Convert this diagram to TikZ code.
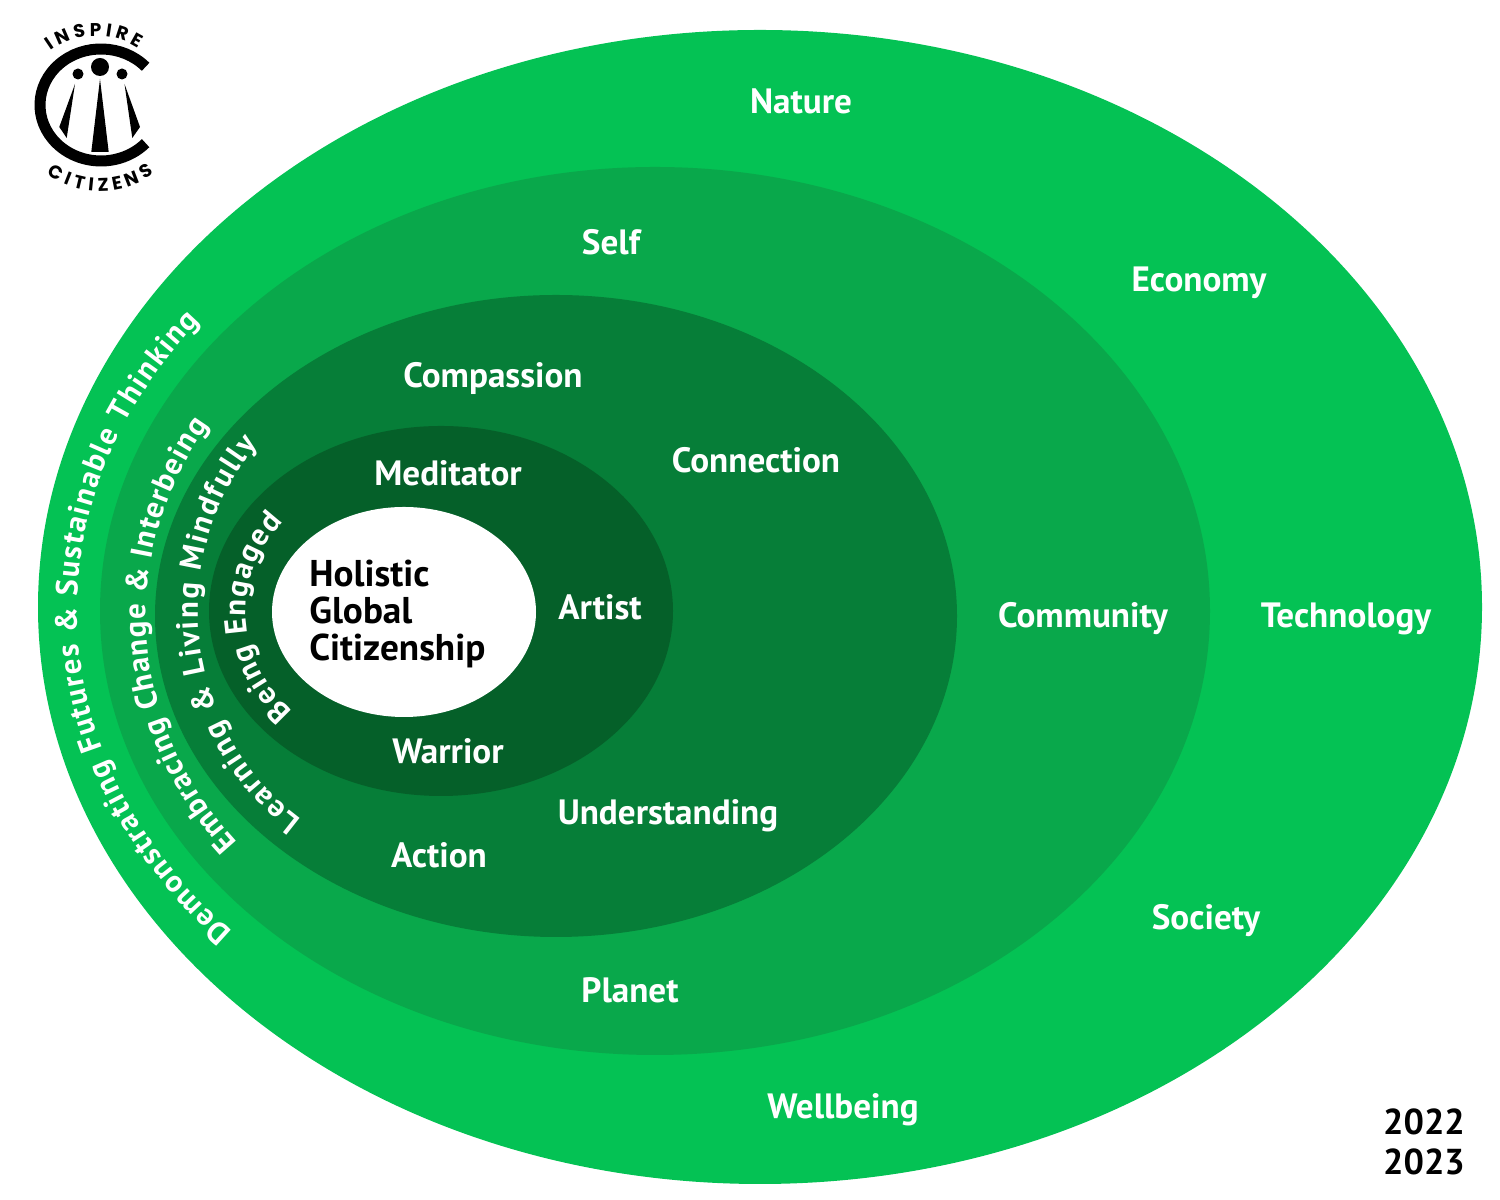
\documentclass[tikz,border=0pt]{standalone}
\usepackage{fontspec}
\setmainfont{PT Sans}
\newfontfamily\logofont{Poppins}
\usetikzlibrary{decorations.text}
\definecolor{ringnature}{HTML}{04C254}
\definecolor{ringself}{HTML}{09A84B}
\definecolor{ringcompassion}{HTML}{067E38}
\definecolor{ringmeditator}{HTML}{056029}

\tikzset{
  ringlabel/.style={font=\bfseries\fontsize{20}{24}\selectfont, text=white, inner sep=0pt},
  centerlabel/.style={font=\bfseries\fontsize{21.2}{21.05}\selectfont, text=black, inner sep=0pt, align=left, anchor=west},
  yearlabel/.style={font=\bfseries\fontsize{20.5}{22.8}\selectfont, text=black, inner sep=0pt, align=center}
}
\newcommand{\ringfont}{\bfseries\fontsize{17.5}{20}\selectfont\color{white}}
\newcommand{\logotext}{\logofont\bfseries\fontsize{10.5}{11}\selectfont\color{black}}
% text along an elliptical arc: cx, cy, rx, ry, start, end, format, text
\newcommand{\arctext}[8]{
  \path[decorate, decoration={text along path, text align={fit to path}, text={|#7|#8}}]
    (#1,#2) ++(#5:#3 and #4) arc[start angle=#5, end angle=#6, x radius=#3, y radius=#4];
}

\begin{document}
\begin{tikzpicture}[x=0.2mm, y=0.2mm]

\useasboundingbox (0,0) rectangle (1500,1200);

% Nested ellipses
\fill[ringnature] (760,593) circle[x radius=722, y radius=577];
\fill[ringself] (655,589) circle[x radius=555, y radius=444];
\fill[ringcompassion] (556,584) circle[x radius=401, y radius=321];
\fill[ringmeditator] (441,589) circle[x radius=232, y radius=185];
\fill[white] (404,588) circle[x radius=132, y radius=105];

% Labels
\node[ringlabel] (nature) at (801,1099) {Nature};
\node[ringlabel] (wellbeing) at (843,90) {Wellbeing};
\node[ringlabel] (economy) at (1199,917) {Economy};
\node[ringlabel] (technology) at (1346,581) {Technology};
\node[ringlabel] (society) at (1206,279) {Society};
\node[ringlabel] (self) at (611,958) {Self};
\node[ringlabel] (community) at (1083,581) {Community};
\node[ringlabel] (planet) at (630,210) {Planet};
\node[ringlabel] (compassion) at (493,822) {Compassion};
\node[ringlabel] (connection) at (756,740) {Connection};
\node[ringlabel] (understanding) at (668,384) {Understanding};
\node[ringlabel] (action) at (439,345) {Action};
\node[ringlabel] (meditator) at (448,727) {Meditator};
\node[ringlabel] (artist) at (600,593) {Artist};
\node[ringlabel] (warrior) at (448,449) {Warrior};

% Centre
\node[centerlabel] (holistic) at (309,586) {Holistic\\Global\\Citizenship};

% Curved ring texts
\arctext{655}{589}{578}{470}{223}{142}{\ringfont}{Demonstrating Futures {\&} Sustainable Thinking}
\arctext{556}{584}{410}{360}{219}{148}{\ringfont}{Embracing Change {\&} Interbeing}
\arctext{441}{589}{243}{255}{235}{139}{\ringfont}{Learning {\&} Living Mindfully}
\arctext{404}{588}{158}{140}{225}{140}{\ringfont}{Being Engaged}

% Years
\node[yearlabel] (years) at (1424,58) {2022\\2023};

% Logo
\draw[black, line width=2.2mm] (101,1095) ++(43:61 and 56) arc[start angle=43, end angle=317, x radius=61, y radius=56];
\fill[black] (100,1133) circle (9);
\fill[black] (78,1126) circle (5.5);
\fill[black] (122,1126) circle (5.5);
\fill[black] (100,1121) -- (91.3,1048) -- (108.7,1048) -- cycle;
\fill[black] (75,1116) -- (59.3,1073) -- (66.7,1062) -- cycle;
\fill[black] (124.5,1116) -- (140,1073) -- (132.3,1062) -- cycle;
\arctext{96}{1095}{74}{69}{128}{55}{\logotext}{INSPIRE}
\arctext{100}{1095}{90}{86}{234}{307}{\logotext}{CITIZENS}

\end{tikzpicture}
\end{document}
